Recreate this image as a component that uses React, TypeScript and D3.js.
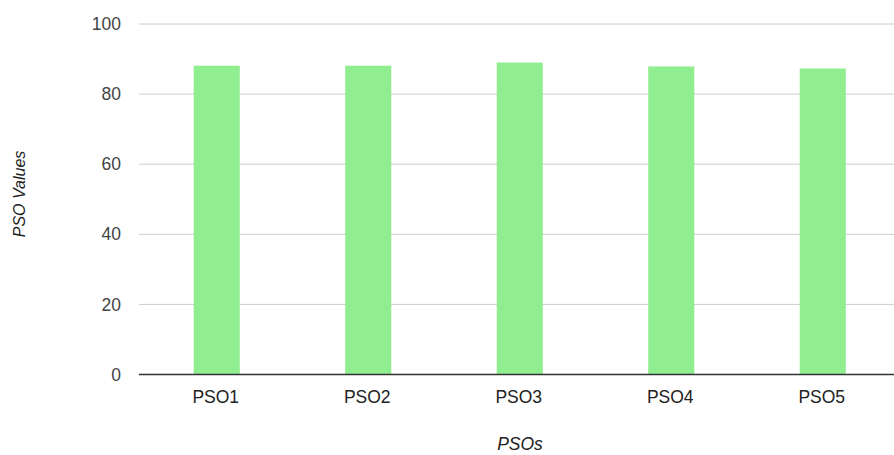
import React from "react";
import * as d3 from "d3";

const categories = ["PSO1", "PSO2", "PSO3", "PSO4", "PSO5"];
const values = [88.1, 88.1, 89.0, 87.9, 87.3];
const yTicks = [0, 20, 40, 60, 80, 100];

export default function App() {
  const W = 894, H = 455;
  const x = d3.scaleBand<string>().domain(categories).range([141, 898.5]).paddingInner(0.696).paddingOuter(0.348);
  const y = d3.scaleLinear().domain([0, 100]).range([374.5, 24]);
  const font = "Arial, 'Liberation Sans', sans-serif";
  return (
    <svg width={W} height={H} style={{ position: "absolute", left: 0, top: 0, background: "#fff" }} fontFamily={font}>
      {yTicks.map((t) => (
        <g key={t}>
          {t !== 0 && <line x1={139} x2={W} y1={y(t)} y2={y(t)} stroke="#cccccc" strokeWidth={1} />}
          <text x={121} y={y(t)} dy="0.35em" textAnchor="end" fontSize={17.5} fill="#444">{t}</text>
        </g>
      ))}
      {categories.map((c, i) => (
        <rect key={c} x={x(c)} y={y(values[i])} width={x.bandwidth()} height={y(0) - y(values[i])} fill="#90ee90" />
      ))}
      <line x1={139} x2={W} y1={y(0)} y2={y(0)} stroke="#333" strokeWidth={1.5} />
      {categories.map((c) => (
        <text key={c} x={(x(c) as number) + x.bandwidth() / 2 - 1} y={403} textAnchor="middle" fontSize={17.5} fill="#222">{c}</text>
      ))}
      <text x={520} y={450} textAnchor="middle" fontSize={17.5} fontStyle="italic" fill="#222">PSOs</text>
      <text transform="translate(25,194) rotate(-90)" textAnchor="middle" fontSize={16} fontStyle="italic" fill="#222">PSO Values</text>
    </svg>
  );
}
